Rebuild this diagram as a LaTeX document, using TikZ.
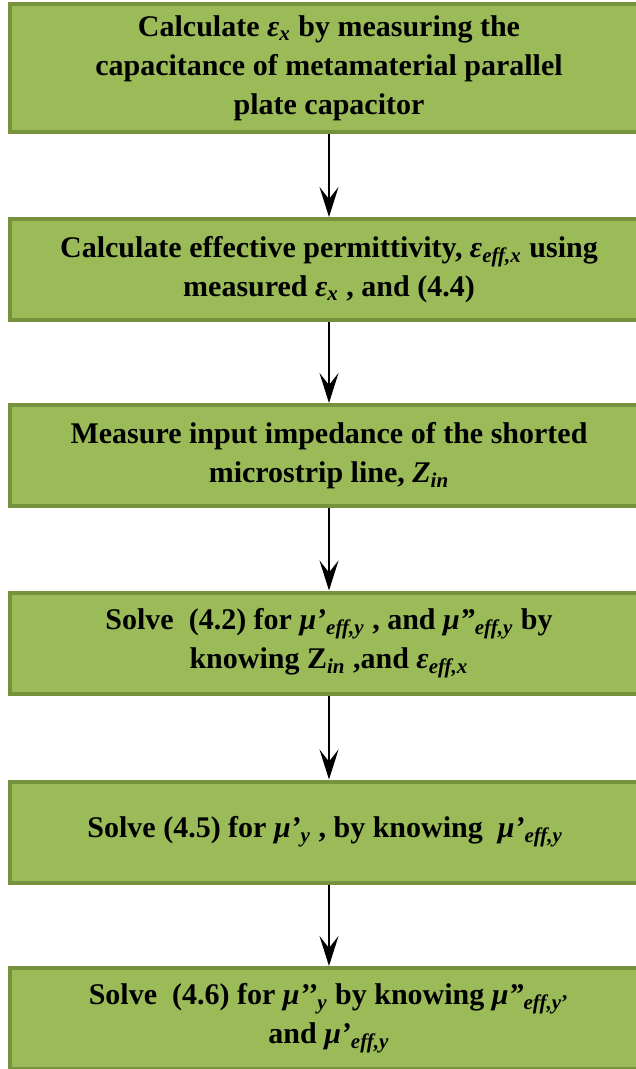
\documentclass[tikz,border=0pt]{standalone}
\usepackage{fontspec}
\setmainfont{Liberation Serif}
\usepackage{tikz}
\usetikzlibrary{arrows.meta, shadows}
\definecolor{OliveFill}{HTML}{9BBB59}
\definecolor{OliveDark}{HTML}{76923C}
\tikzset{
    % Green process boxes
    stage/.style={
        rectangle,
        draw=OliveDark,
        fill=OliveFill,
        line width=2pt,
        minimum width=319pt,
        minimum height=50.5pt,
        align=center,
        drop shadow={shadow xshift=0.6pt, shadow yshift=-0.8pt, fill=black!30},
        font=\bfseries\fontsize{15}{19.5}\selectfont
    },
    arrow style/.style={
        -{Stealth[length=15pt, width=9.5pt, inset=6pt]},
        line width=1pt,
        black
    }
}

\begin{document}
\begin{tikzpicture}[x=0.5pt, y=-0.5pt]
        \useasboundingbox (0,0) rectangle (636,1069);

        % Steps
        \node[stage, minimum height=64pt] (capacitance) at (329, 68) {
            Calculate \textit{ε}\textsubscript{\textit{x}} by measuring the\\
            capacitance of metamaterial parallel\\
            plate capacitor
        };
        \node[stage] (permittivity) at (329, 269.5) {
            Calculate effective permittivity, \textit{ε}\textsubscript{\textit{eff,x}} using\\
            measured \textit{ε}\textsubscript{\textit{x}} , and (4.4)
        };
        \node[stage] (impedance) at (329, 455.5) {
            Measure input impedance of the shorted\\
            microstrip line, \textit{Z}\textsubscript{\textit{in}}
        };
        \node[stage] (solveeff) at (329, 643) {
            Solve\ \ (4.2) for \textit{μ’}\textsubscript{\textit{eff,y}} , and \textit{μ”}\textsubscript{\textit{eff,y}} by\\
            knowing Z\textsubscript{\textit{in}} ,and \textit{ε}\textsubscript{\textit{eff,x}}
        };
        \node[stage] (solvereal) at (329, 832) {
            Solve (4.5) for \textit{μ’}\textsubscript{\textit{y}} , by knowing\ \ \textit{μ’}\textsubscript{\textit{eff,y}}
        };
        \node[stage] (solveimag) at (329, 1018.5) {
            Solve\ \ (4.6) for \textit{μ’’}\textsubscript{\textit{y}} by knowing \textit{μ”}\textsubscript{\textit{eff,y}’}\\
            and \textit{μ’}\textsubscript{\textit{eff,y}}
        };

        % Flow
        \draw[arrow style] (capacitance) -- (permittivity);
        \draw[arrow style] (permittivity) -- (impedance);
        \draw[arrow style] (impedance) -- (solveeff);
        \draw[arrow style] (solveeff) -- (solvereal);
        \draw[arrow style] (solvereal) -- (solveimag);
    \end{tikzpicture}
\end{document}
